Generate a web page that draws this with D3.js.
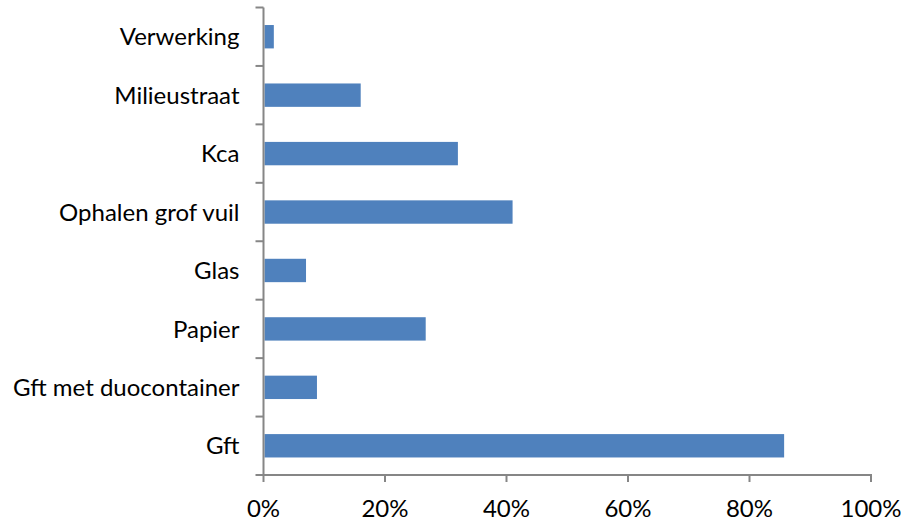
<!DOCTYPE html>
<html>
<head>
<meta charset="utf-8">
<script src="https://cdn.jsdelivr.net/npm/d3@7"></script>
<style>
  html, body { margin: 0; padding: 0; background: #fff; }
  svg { display: block; }
  .lbl { font-family: Lato, "Open Sans", sans-serif; font-size: 24px; fill: #000; }
</style>
</head>
<body>
<svg id="chart" width="901" height="521"></svg>
<script>
// Share per collection stream (fraction of 1)
const categories = ["Verwerking", "Milieustraat", "Kca", "Ophalen grof vuil", "Glas", "Papier", "Gft met duocontainer", "Gft"];
const shares = [0.017, 0.160, 0.320, 0.410, 0.070, 0.267, 0.088, 0.857];
const xTicks = [0, 0.2, 0.4, 0.6, 0.8, 1.0];

const W = 901, H = 521;
const margin = { top: 7.5, right: 30, bottom: 46, left: 263.5 };
const svg = d3.select("#chart");

const x = d3.scaleLinear().domain([0, 1]).range([margin.left, W - margin.right]);
const y = d3.scaleBand().domain(categories).range([margin.top, H - margin.bottom]).paddingInner(0.6).paddingOuter(0.3);

const data = categories.map((c, i) => ({ cat: c, v: shares[i] }));

// bars
svg.append("g").selectAll("rect").data(data).join("rect")
  .attr("x", x(0) + 1)
  .attr("y", d => y(d.cat))
  .attr("width", d => Math.max(0, x(d.v) - x(0) - 1))
  .attr("height", y.bandwidth())
  .attr("fill", "#4F81BD");

const axisColor = "#868686";

// category axis: line plus ticks at band boundaries
const yAx = svg.append("g");
yAx.append("line")
  .attr("x1", x(0)).attr("x2", x(0))
  .attr("y1", margin.top).attr("y2", H - margin.bottom)
  .attr("stroke", axisColor).attr("stroke-width", 2);
const step = y.step();
const bounds = d3.range(categories.length + 1).map(i => margin.top + i * step);
yAx.selectAll("line.t").data(bounds).join("line").attr("class", "t")
  .attr("x1", x(0) - 8).attr("x2", x(0))
  .attr("y1", d => d).attr("y2", d => d)
  .attr("stroke", axisColor).attr("stroke-width", 2);
yAx.selectAll("text").data(categories).join("text").attr("class", "lbl")
  .attr("x", x(0) - 24)
  .attr("y", d => y(d) + y.bandwidth() / 2)
  .attr("dy", "0.36em")
  .attr("text-anchor", "end")
  .text(d => d);

// value axis
const xAx = svg.append("g");
const y0 = H - margin.bottom;
xAx.append("line")
  .attr("x1", x(0) - 1).attr("x2", x(1) + 1)
  .attr("y1", y0).attr("y2", y0)
  .attr("stroke", axisColor).attr("stroke-width", 2);
xAx.selectAll("line.t").data(xTicks).join("line").attr("class", "t")
  .attr("x1", d => x(d)).attr("x2", d => x(d))
  .attr("y1", y0).attr("y2", y0 + 7)
  .attr("stroke", axisColor).attr("stroke-width", 2);
xAx.selectAll("text").data(xTicks).join("text").attr("class", "lbl")
  .attr("x", d => x(d))
  .attr("y", y0 + 42)
  .attr("text-anchor", "middle")
  .text(d3.format(".0%"));
</script>
</body>
</html>
